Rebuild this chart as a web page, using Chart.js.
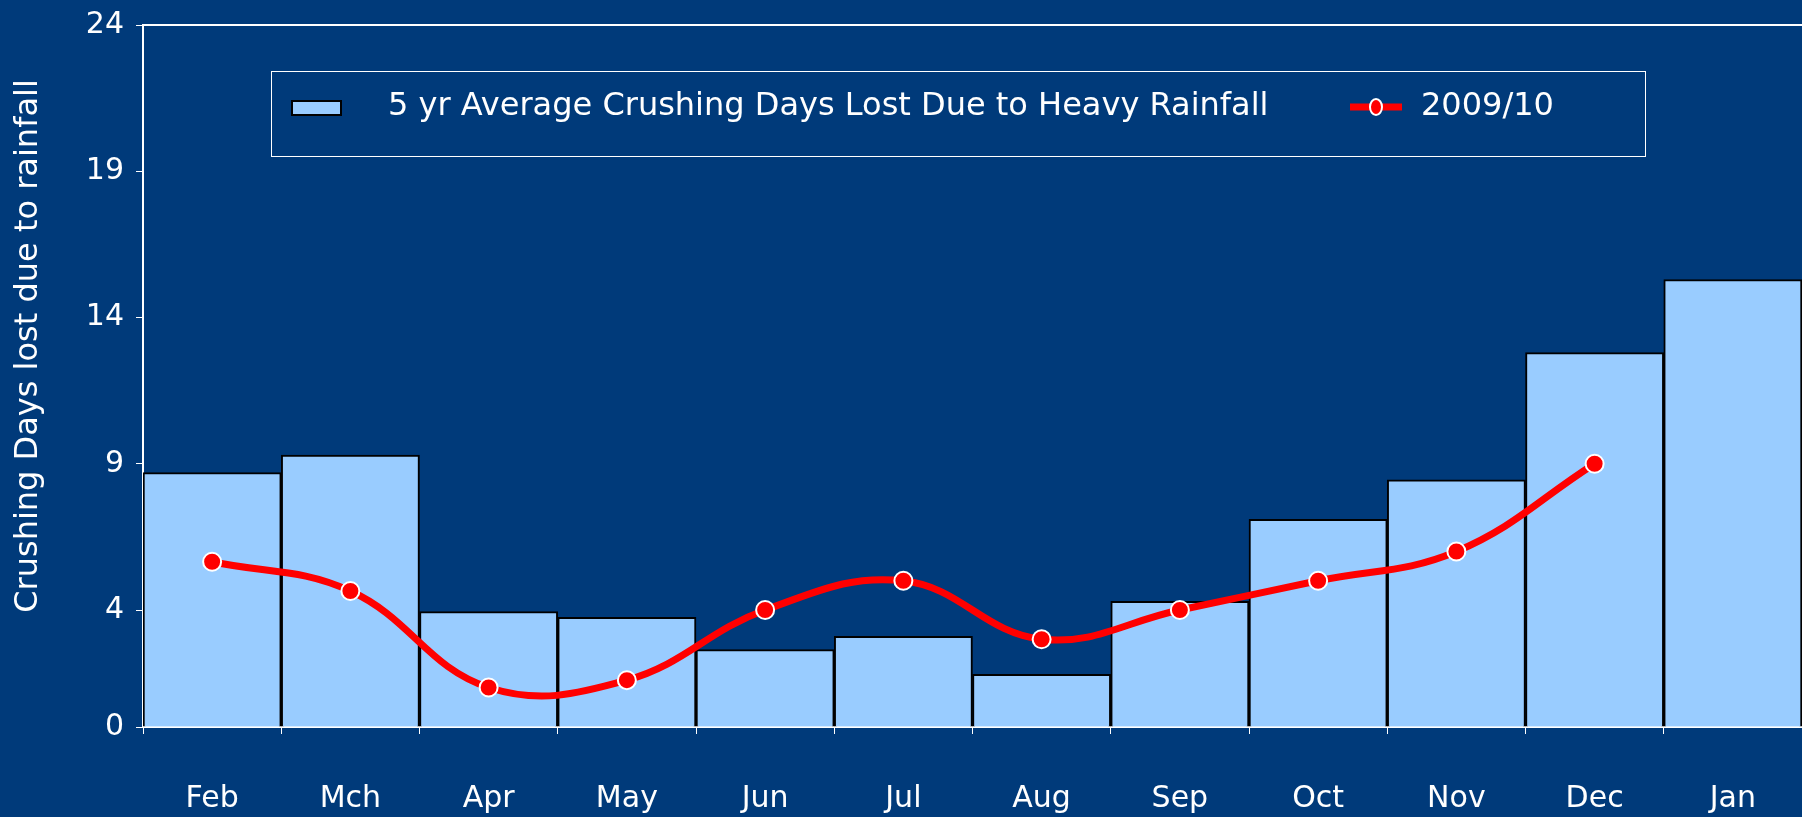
<!DOCTYPE html>
<html>
<head>
<meta charset="utf-8">
<title>Crushing Days Lost Due to Rainfall</title>
<script src="https://cdn.jsdelivr.net/npm/chart.js@4/dist/chart.umd.min.js"></script>
<style>
    html, body { margin: 0; padding: 0; background: #003A7A; overflow: hidden; }
    #wrap { width: 1802px; height: 817px; position: relative; }
    #chart { display: block; }
</style>
</head>
<body>
<div id="wrap"><canvas id="chart"></canvas></div>
<script>
const months     = ['Feb', 'Mch', 'Apr', 'May', 'Jun', 'Jul', 'Aug', 'Sep', 'Oct', 'Nov', 'Dec', 'Jan']
const avgDays    = [8.7, 9.3, 3.95, 3.75, 2.65, 3.1, 1.8, 4.3, 7.1, 8.45, 12.8, 15.3]
const season0910 = [5.65, 4.65, 1.35, 1.6, 4.0, 5.0, 3.0, 4.0, 5.0, 6.0, 9.0, null]
const yTicks     = [0, 4, 9, 14, 19, 24]

const avgLabel    = '5 yr Average Crushing Days Lost Due to Heavy Rainfall'
const seasonLabel = '2009/10'
const yTitle      = 'Crushing Days lost due to rainfall'

const FONT  = '"DejaVu Sans", Verdana, sans-serif'
const WHITE = '#FFFFFF'

// legend box sits inside the plot, with a thin white frame
const boxLegend = {
    id: 'boxLegend',
    afterDraw(chart) {
        const ctx = chart.ctx
        const [line, bars] = chart.data.datasets
        ctx.save()

        ctx.strokeStyle = WHITE
        ctx.lineWidth   = 1
        ctx.strokeRect(271.5, 71.5, 1374, 85)

        ctx.fillStyle   = bars.backgroundColor
        ctx.fillRect(292, 101, 49, 14)
        ctx.strokeStyle = '#000000'
        ctx.lineWidth   = 2
        ctx.strokeRect(292, 101, 49, 14)

        ctx.strokeStyle = line.borderColor
        ctx.lineWidth   = 7
        ctx.beginPath()
        ctx.moveTo(1350, 107)
        ctx.lineTo(1402, 107)
        ctx.stroke()
        ctx.beginPath()
        ctx.ellipse(1376, 107, 6, 8, 0, 0, Math.PI * 2)
        ctx.fillStyle   = line.pointBackgroundColor
        ctx.fill()
        ctx.strokeStyle = WHITE
        ctx.lineWidth   = 2
        ctx.stroke()

        ctx.fillStyle    = WHITE
        ctx.font         = `32px ${FONT}`
        ctx.textBaseline = 'middle'
        ctx.textAlign    = 'left'
        ctx.fillText(bars.label, 388, 107)
        ctx.fillText(line.label, 1421, 107)

        ctx.restore()
    }
}

// frame line across the top of the plot and the rotated axis title
const frame = {
    id: 'frame',
    afterDraw(chart) {
        const {ctx, chartArea} = chart
        ctx.save()
        ctx.strokeStyle = WHITE
        ctx.lineWidth   = 2
        ctx.beginPath()
        ctx.moveTo(chartArea.left, chartArea.top)
        ctx.lineTo(chartArea.right, chartArea.top)
        ctx.stroke()

        ctx.translate(29, 346)
        ctx.rotate(-Math.PI / 2)
        ctx.fillStyle    = WHITE
        ctx.font         = `32px ${FONT}`
        ctx.textAlign    = 'center'
        ctx.textBaseline = 'middle'
        ctx.fillText(yTitle, 0, 0)
        ctx.restore()
    }
}

new Chart(document.getElementById('chart'), {
    data   : {
        labels  : months,
        datasets: [
            {
                type                : 'line',
                label               : seasonLabel,
                data                : season0910,
                order               : 0,
                borderColor         : '#FF0000',
                borderWidth         : 7,
                tension             : 0.4,
                pointRadius         : 9,
                pointBackgroundColor: '#FF0000',
                pointBorderColor    : WHITE,
                pointBorderWidth    : 2,
            },
            {
                type              : 'bar',
                label             : avgLabel,
                data              : avgDays,
                order             : 1,
                backgroundColor   : '#99CCFF',
                borderColor       : '#000000',
                borderWidth       : 2,
                borderSkipped     : 'bottom',
                barPercentage     : 1,
                categoryPercentage: 1,
            }
        ]
    },
    options: {
        responsive         : true,
        maintainAspectRatio: false,
        animation          : false,
        layout             : {autoPadding: false, padding: {top: 25, right: 0, left: 0, bottom: 0}},
        plugins            : {
            legend : {display: false},
            tooltip: {enabled: false},
        },
        scales             : {
            x: {
                offset  : true,
                grid    : {offset: true, drawOnChartArea: false, color: WHITE, tickLength: 7},
                border  : {color: WHITE, width: 2},
                ticks   : {color: WHITE, font: {family: FONT, size: 30}, padding: 47, maxRotation: 0},
                afterFit: scale => {
                    scale.height       = 90
                    scale.paddingLeft  = 0
                    scale.paddingRight = 0
                },
            },
            y: {
                min            : 0,
                max            : 24,
                grid           : {drawOnChartArea: false, color: WHITE, tickLength: 7},
                border         : {color: WHITE, width: 2},
                ticks          : {color: WHITE, font: {family: FONT, size: 30}, padding: 12},
                afterBuildTicks: scale => { scale.ticks = yTicks.map(value => ({value})) },
                afterFit       : scale => {
                    scale.width         = 143
                    scale.paddingTop    = 0
                    scale.paddingBottom = 0
                },
            }
        }
    },
    plugins: [boxLegend, frame]
})
</script>
</body>
</html>
